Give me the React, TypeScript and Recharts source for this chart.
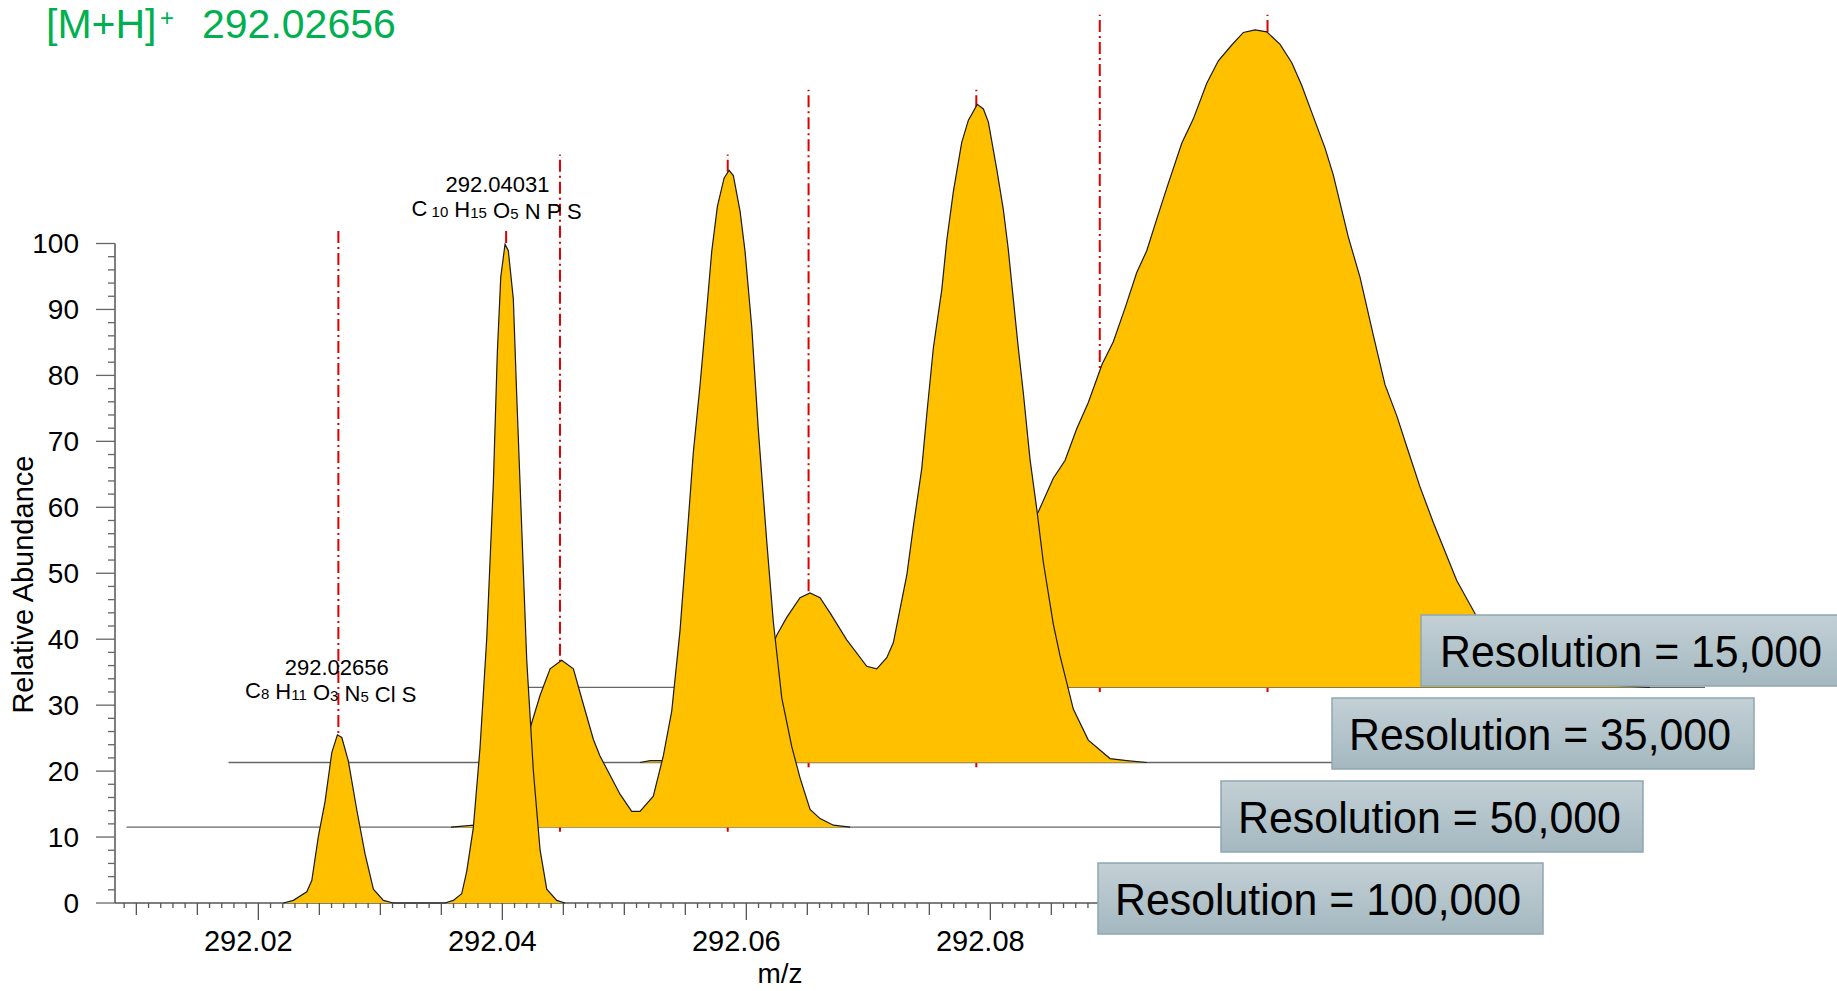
import React from 'react'
import { ComposedChart, Area, XAxis, YAxis, ReferenceLine } from 'recharts'

if (typeof document !== 'undefined') document.body.style.margin = '0'

const W = 1837
const H = 991
const FONT = '"Liberation Sans", Arial, Helvetica, sans-serif'

// theoretical m/z of the two ions (red dash-dot markers)
const THEORETICAL_MZ = [292.02656, 292.04031]
const RESOLUTIONS = ['100,000', '50,000', '35,000', '15,000']

// profile spectra: [m/z, relative abundance]
const PROFILE_100K: [number, number][] = [
  [292.02205, 0], [292.02287, 0.4], [292.02397, 1.7], [292.02438, 3.4], [292.02492, 10.1],
  [292.02547, 15.4], [292.02602, 22.8], [292.02648, 25.5], [292.02684, 25.1], [292.02738, 21.5],
  [292.02807, 14.1], [292.02875, 7.4], [292.02943, 2.1], [292.03025, 0.4], [292.03107, 0],
  [292.0353, 0], [292.03598, 0.4], [292.03667, 1.4], [292.03708, 4.8], [292.03762, 11.4],
  [292.03817, 23.5], [292.03872, 40.1], [292.03926, 63.5], [292.03959, 83.5], [292.03987, 94.9],
  [292.04022, 99.9], [292.04049, 98.9], [292.0409, 91.6], [292.04118, 76.9], [292.04159, 56.8],
  [292.042, 36.8], [292.04254, 20.1], [292.04309, 8.1], [292.04364, 2.1], [292.04446, 0.4],
  [292.04514, 0],
]

const PROFILE_50K: [number, number][] = [
  [292.01763, 0], [292.01952, 0.3], [292.02083, 1.5], [292.02206, 5], [292.02312, 10],
  [292.02416, 15.3], [292.02493, 20], [292.02575, 24], [292.0267, 25.3], [292.02766, 24],
  [292.02848, 18.6], [292.0293, 13.3], [292.02984, 10.8], [292.03148, 5], [292.03244, 2.4],
  [292.03312, 2.4], [292.03421, 4.7], [292.03503, 10.8], [292.03572, 17.6], [292.0364, 29.8],
  [292.03695, 43.3], [292.03749, 56.8], [292.03804, 67], [292.03859, 78.5], [292.039, 87.3],
  [292.03946, 94.1], [292.04001, 98.4], [292.04042, 99.6], [292.04077, 98.8], [292.04132, 93.4],
  [292.04173, 87.3], [292.04228, 75.8], [292.04282, 60.2], [292.04351, 43.3], [292.04405, 31.1],
  [292.04474, 19.6], [292.04556, 12.2], [292.04625, 7.4], [292.04706, 2.7], [292.04788, 1.3],
  [292.04897, 0.3], [292.05034, 0],
]

const PROFILE_35K: [number, number][] = [
  [292.01275, 0], [292.01357, 0.3], [292.01455, 0.3], [292.01766, 1], [292.02012, 4.5],
  [292.02176, 9.6], [292.02299, 15], [292.02395, 19.3], [292.02477, 22], [292.02586, 25],
  [292.02668, 25.7], [292.0275, 25], [292.02832, 22.7], [292.02969, 18.6], [292.03133, 14.6],
  [292.03215, 14.2], [292.03297, 15.9], [292.03351, 18.2], [292.03406, 23.3], [292.03461, 28.4],
  [292.03515, 35.8], [292.03584, 44.6], [292.03625, 52.8], [292.03679, 62.9], [292.03748, 71.7],
  [292.03789, 79.2], [292.03843, 86.6], [292.03911, 94], [292.03966, 97.4], [292.04039, 99.8],
  [292.04089, 99.1], [292.0413, 97.1], [292.04198, 90], [292.04252, 83.9], [292.04293, 77.8],
  [292.04334, 70.3], [292.04375, 62.9], [292.04416, 56.1], [292.04471, 46], [292.04526, 38.5],
  [292.0458, 30.4], [292.04662, 21], [292.04717, 16.2], [292.04826, 8.1], [292.04949, 3.4],
  [292.05127, 0.6], [292.05264, 0.3], [292.05428, 0],
]

const PROFILE_15K: [number, number][] = [
  [291.99789, 0], [292.00199, 0.3], [292.00609, 1.1], [292.01019, 3.5], [292.01429, 8.8],
  [292.01839, 18], [292.02152, 26.6], [292.02275, 31.7], [292.02371, 34.4], [292.02467, 39.2],
  [292.02562, 43.2], [292.02675, 49], [292.02767, 52.4], [292.02863, 57.5], [292.02959, 62.9],
  [292.03041, 66.2], [292.03123, 71], [292.03205, 75.7], [292.03328, 82.5], [292.03423, 86.2],
  [292.03533, 91.6], [292.03628, 95], [292.03738, 97.4], [292.03833, 99.3], [292.03929, 99.7],
  [292.04025, 99.4], [292.04134, 97.5], [292.0423, 94.7], [292.04311, 91.3], [292.04407, 86.5],
  [292.04502, 81.8], [292.0457, 77.7], [292.04693, 68.3], [292.04789, 62.2], [292.04898, 53.4],
  [292.04994, 45.9], [292.0509, 41.2], [292.05185, 35.8], [292.05281, 30.4], [292.0539, 25],
  [292.05582, 16.2], [292.05746, 10.7], [292.05937, 6.5], [292.06183, 3.2], [292.06429, 1.4],
  [292.06757, 0.4], [292.07166, 0],
]

const PROFILES = [PROFILE_100K, PROFILE_50K, PROFILE_35K, PROFILE_15K]

// waterfall offsets of each trace (m/z to the right, abundance upward)
const SHIFT_MZ = [0, 0.018164, 0.038541, 0.06241]
const SHIFT_AB = [0, 11.5, 21.3, 32.7]
// extent of each trace's own baseline, in its own m/z
const BASELINE_MZ = [
  [292.00825, 292.089],
  [291.99103, 292.08312],
  [291.97902, 292.07176],
  [291.97961, 292.07617],
]
const MARKER_TOP = 102

const X_DOMAIN = [292.00825, 292.1494]
const Y_DOMAIN = [0, 136]
const X_TICKS = Array.from({ length: 81 }, (_, i) => (292009 + i) / 1000)
const Y_TICKS = Array.from({ length: 51 }, (_, i) => i * 2)

const FILL = '#FFC000'
const RED = '#DC0000'

const rows = (p: [number, number][]) => p.map(([mz, v]) => ({ mz, v }))

function XTick(props: any) {
  const { x, y, payload } = props
  const k = Math.round((payload.value - 292) * 1000)
  const labeled = k % 20 === 0
  const len = labeled ? 17 : k % 5 === 0 ? 12 : 5
  return (
    <g>
      <line x1={x} x2={x} y1={y} y2={y + len} stroke="#555" strokeWidth={1.3} />
      {labeled && (
        <text x={x - 10} y={y + 48} textAnchor="middle" fontSize={29} fontFamily={FONT} fill="#000">
          {payload.value.toFixed(2)}
        </text>
      )}
    </g>
  )
}

function YTick(props: any) {
  const { x, y, payload } = props
  const major = payload.value % 10 === 0
  return (
    <g>
      <line x1={x - (major ? 19 : 7)} x2={x} y1={y} y2={y} stroke="#666" strokeWidth={1.3} />
      {major && (
        <text x={x - 36} y={y} textAnchor="end" dominantBaseline="central" fontSize={28} fontFamily={FONT} fill="#000">
          {payload.value}
        </text>
      )}
    </g>
  )
}

function traceItems(i: number) {
  const ax = i === 0 ? 'main' : `t${i}`
  const low = i === 0 ? 0 : -0.7
  const items = THEORETICAL_MZ.map((m, j) => (
    <Area
      key={`red-${i}-${j}`}
      xAxisId={ax}
      yAxisId={ax}
      data={[{ mz: m, v: low }, { mz: m, v: MARKER_TOP }]}
      dataKey="v"
      type="linear"
      fill="none"
      stroke={RED}
      strokeWidth={2}
      strokeDasharray="12 4 2 4"
      dot={false}
      activeDot={false}
      isAnimationActive={false}
    />
  ))
  items.push(
    <Area
      key={`base-${i}`}
      xAxisId={ax}
      yAxisId={ax}
      data={BASELINE_MZ[i].map((mz) => ({ mz, v: 0 }))}
      dataKey="v"
      type="linear"
      fill="none"
      stroke={i === 0 ? '#555' : '#666'}
      strokeWidth={1.4}
      dot={false}
      activeDot={false}
      isAnimationActive={false}
    />
  )
  items.push(
    <Area
      key={`prof-${i}`}
      xAxisId={ax}
      yAxisId={ax}
      data={rows(PROFILES[i])}
      dataKey="v"
      type="linear"
      baseValue={0}
      fill={FILL}
      fillOpacity={1}
      stroke="#1a1a1a"
      strokeWidth={1.2}
      dot={false}
      activeDot={false}
      isAnimationActive={false}
    />
  )
  return items
}

const BOX_LAYOUT = [
  { x: 1098, y: 863, w: 445, tx: 1115, tl: 406 },
  { x: 1221, y: 781, w: 422, tx: 1238, tl: 383 },
  { x: 1332, y: 698, w: 422, tx: 1349, tl: 382 },
  { x: 1421, y: 615, w: 440, tx: 1440, tl: 382 },
]

function Formula({ x, y, parts }: { x: number; y: number; parts: [string, string][] }) {
  return (
    <text x={x} y={y} fontSize={22} fontFamily={FONT} fill="#000">
      {parts.map(([el, sub], k) => (
        <React.Fragment key={k}>
          <tspan dy={0}>{(k > 0 ? ' ' : '') + el}</tspan>
          {sub && (
            <tspan fontSize={15} dy={1}>
              {sub}
            </tspan>
          )}
          {sub && <tspan dy={-1}>{''}</tspan>}
        </React.Fragment>
      ))}
    </text>
  )
}

export default function App() {
  return (
    <div style={{ position: 'absolute', left: 0, top: 0, width: W, height: H, background: '#fff', overflow: 'hidden' }}>
      <ComposedChart width={W} height={H} margin={{ top: 6.08, right: 0, bottom: 0, left: 0 }}>
        <XAxis
          xAxisId="main"
          type="number"
          dataKey="mz"
          domain={X_DOMAIN}
          ticks={X_TICKS}
          interval={0}
          tick={XTick}
          tickSize={0}
          tickMargin={0}
          tickLine={false}
          axisLine={false}
          height={88}
        />
        <YAxis
          yAxisId="main"
          type="number"
          domain={Y_DOMAIN}
          ticks={Y_TICKS}
          interval={0}
          tick={YTick}
          tickSize={0}
          tickMargin={0}
          tickLine={false}
          axisLine={false}
          width={115}
        />
        {[1, 2, 3].map((i) => (
          <XAxis
            key={`x${i}`}
            xAxisId={`t${i}`}
            type="number"
            dataKey="mz"
            hide
            domain={[X_DOMAIN[0] - SHIFT_MZ[i], X_DOMAIN[1] - SHIFT_MZ[i]]}
          />
        ))}
        {[1, 2, 3].map((i) => (
          <YAxis
            key={`y${i}`}
            yAxisId={`t${i}`}
            type="number"
            hide
            domain={[Y_DOMAIN[0] - SHIFT_AB[i], Y_DOMAIN[1] - SHIFT_AB[i]]}
          />
        ))}
        <ReferenceLine
          xAxisId="main"
          yAxisId="main"
          segment={[{ x: X_DOMAIN[0], y: 0 }, { x: X_DOMAIN[0], y: 100 }]}
          stroke="#555"
          strokeWidth={1.5}
        />
        {[3, 2, 1, 0].map((i) => traceItems(i))}
      </ComposedChart>

      <svg width={W} height={H} style={{ position: 'absolute', left: 0, top: 0, pointerEvents: 'none' }}>
        <defs>
          <linearGradient id="boxFill" x1="0" y1="0" x2="0" y2="1">
            <stop offset="0" stopColor="#C3D0D6" />
            <stop offset="1" stopColor="#A4B8C0" />
          </linearGradient>
        </defs>

        <text y={38} fontSize={41} fontFamily={FONT} fill="#00B050">
          <tspan x={46}>[M+H]</tspan>
          <tspan x={160} y={26} fontSize={24}>+</tspan>
          <tspan x={202} y={38}>292.02656</tspan>
        </text>

        <text x={336.7} y={675} textAnchor="middle" fontSize={22} fontFamily={FONT} fill="#000">
          292.02656
        </text>
        <Formula x={245} y={698} parts={[['C', '8'], ['H', '11'], ['O', '3'], ['N', '5'], ['Cl', ''], ['S', '']]} />

        <text x={497.5} y={192} textAnchor="middle" fontSize={22} fontFamily={FONT} fill="#000">
          292.04031
        </text>
        <Formula x={411.5} y={216} parts={[['C', ' 10'], ['H', '15'], ['O', '5'], ['N', ''], ['P', ''], ['S', '']]} />

        <text
          x={33}
          y={584.6}
          transform="rotate(-90 33 584.6)"
          textAnchor="middle"
          fontSize={29}
          fontFamily={FONT}
          fill="#000"
        >
          Relative Abundance
        </text>
        <text x={780} y={983} textAnchor="middle" fontSize={28} fontFamily={FONT} fill="#000">
          m/z
        </text>

        {BOX_LAYOUT.map((b, i) => (
          <g key={i}>
            <rect x={b.x} y={b.y} width={b.w} height={71} fill="url(#boxFill)" stroke="#8FA7B1" strokeWidth={1.5} />
            <text
              x={b.tx}
              y={b.y + 52}
              fontSize={44}
              fontFamily={FONT}
              fill="#000"
              textLength={b.tl}
              lengthAdjust="spacingAndGlyphs"
            >
              {`Resolution = ${RESOLUTIONS[i]}`}
            </text>
          </g>
        ))}
      </svg>
    </div>
  )
}
